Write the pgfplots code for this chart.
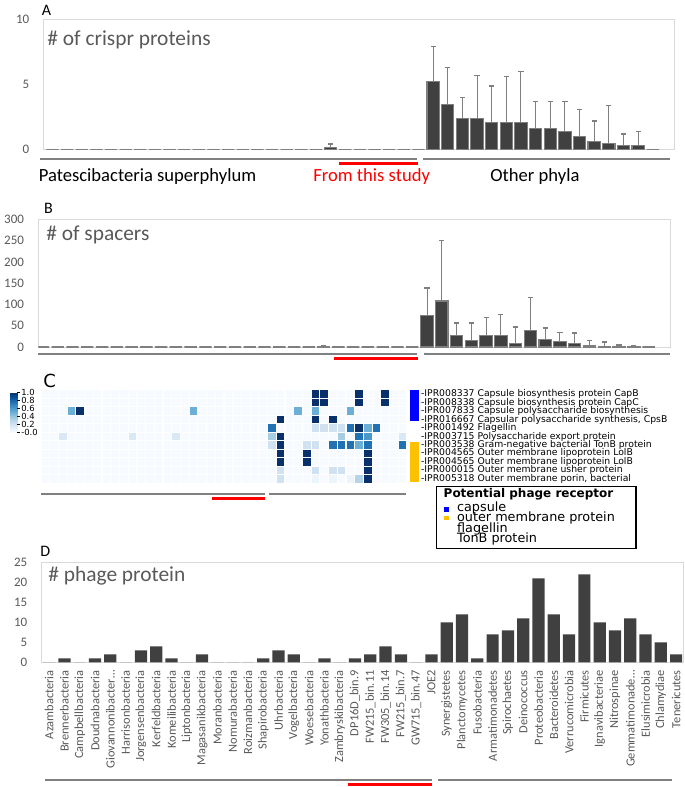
\documentclass[border=0pt]{standalone}
\usepackage{fontspec}
\setmainfont{Carlito}
\newfontfamily\dejavu{DejaVu Sans}
\usepackage{pgfplots}
\usepackage{pgfplotstable}
\pgfplotsset{compat=1.18}
\definecolor{labgray}{HTML}{595959}
\definecolor{boxgray}{HTML}{D9D9D9}
\definecolor{bardark}{HTML}{404040}
\definecolor{barline}{HTML}{7F7F7F}
\definecolor{linegray}{HTML}{808080}
\definecolor{xred}{HTML}{FF0000}
\definecolor{xgold}{HTML}{FFC000}
\definecolor{xblue}{HTML}{0000FF}

\pgfplotstableread{
x y e
0 0 0
1 0 0
2 0 0
3 0 0
4 0 0
5 0 0
6 0 0
7 0 0
8 0 0
9 0 0
10 0 0
11 0 0
12 0 0
13 0 0
14 0 0
15 0 0
16 0 0
17 0 0
18 0 0
19 0.15 0.3
20 0 0
21 0 0
22 0 0
23 0 0
24 0 0
25 0 0
26 5.2 2.7
27 3.5 2.8
28 2.4 1.6
29 2.4 3.3
30 2.1 2.8
31 2.1 3.5
32 2.1 3.9
33 1.6 2.1
34 1.6 2.1
35 1.4 2.3
36 1.0 2.1
37 0.6 1.6
38 0.5 2.9
39 0.3 0.9
40 0.3 1.1
41 0 0
}\dataA

\pgfplotstableread{
x y e
0 0 0
1 0 0
2 0 0
3 0 0
4 0 0
5 0 0
6 0 0
7 0 0
8 0 0
9 0 0
10 0 0
11 0 0
12 0 0
13 0 0
14 0 0
15 0 0
16 0 0
17 0 0
18 0 0
19 1 1
20 0 0
21 0 0
22 0 0
23 0 0
24 0 0
25 0 0
26 75 64
27 108 142
28 28 28
29 16 40
30 27 43
31 26 50
32 9 38
33 38 78
34 18 27
35 12 22
36 9 24
37 3 12
38 1.5 10
39 1 4
40 1 2
41 0 0
}\dataB

\pgfplotstableread{
c r0 r1 r2 r3 r4 r5 r6 r7 r8 r9 r10
0 0 0 0 0 0 0 0 0 0 0 0
1 0 0 0 0 0 0 0 0 0 0 0
2 0 0 0 0 0 0.15 0 0 0 0 0
3 0 0 0.5 0 0 0 0 0 0 0 0
4 0 0 1 0 0 0 0 0 0 0 0
5 0 0 0 0 0 0 0 0 0 0 0
6 0 0 0 0 0 0 0 0 0 0 0
7 0 0 0 0 0 0 0 0 0 0 0
8 0 0 0 0 0 0 0 0 0 0 0
9 0 0 0 0 0 0 0 0 0 0 0
10 0 0 0 0 0 0.15 0 0 0 0 0
11 0 0 0 0 0 0 0 0 0 0 0
12 0 0 0 0 0 0 0 0 0 0 0
13 0 0 0 0 0 0 0 0 0 0 0
14 0 0 0 0 0 0 0 0 0 0 0
15 0 0 0 0 0 0.15 0 0 0 0 0
16 0 0 0 0 0 0 0 0 0 0 0
17 0 0 0.5 0 0 0 0 0 0 0 0
18 0 0 0 0 0 0 0 0 0 0 0
19 0 0 0 0 0 0 0 0 0 0 0
20 0 0 0 0 0 0 0 0 0 0 0
21 0 0 0 0 0 0 0 0 0 0 0
22 0 0 0 0 0 0 0 0 0 0 0
23 0 0 0 0 0 0 0 0 0 0 0
24 0 0 0 0 0 0 0 0 0 0 0
25 0 0 0 0 0 0 0 0 0 0 0
26 0 0 0 0 0.75 0.35 0.2 0 0 0 0
27 0 0 0 1 0 1 1 1 1 0.2 0.2
28 0 0 0 0 0 0 0 0 0 0 0
29 0 0 0.5 0 0 0 0 0 0 0 0
30 0 0 0 0 0 0 0.2 1 1 0 0
31 1 1 0.5 1 0.2 0 0.2 0 0 0.2 0.05
32 1 1 0 0 0.2 0 0 0 0 0 0
33 0 0 0 1 0.2 0 0.75 0 0 0.2 0.05
34 0 0 0 0 0.2 0.35 0.75 0 0 0.2 0
35 0 0 0.5 0 0.75 0 0.75 0 0 0 0.05
36 1 1 0 0 1 0.75 0.5 0 0 0 0.3
37 0 0 0 0 0.5 0.6 0.75 1 1 1 1
38 0 0 0 0 0.75 0 0 0 0 0 0
39 1 1 0 0 0 0 0 0 0 0 0
40 0 0 0 0 0 0 0 0 0 0 0
41 0 0 0 0 0 0.15 0.75 0 0 0 0
}\heat

\pgfplotstableread{
x y
0 0
1 1
2 0
3 1
4 2
5 0
6 3
7 4
8 1
9 0
10 2
11 0
12 0
13 0
14 1
15 3
16 2
17 0
18 1
19 0
20 1
21 2
22 4
23 2
24 0
25 2
26 10
27 12
28 1
29 7
30 8
31 11
32 21
33 12
34 7
35 22
36 10
37 8
38 11
39 7
40 5
41 2
}\dataD

\pgfplotsset{
  /pgf/number format/assume math mode=true,
  barpanel/.style={
    scale only axis, anchor=north west,
    axis line style={draw=boxgray, line width=0.5pt},
    xtick=\empty, ytick style={draw=none}, xtick style={draw=none},
    yticklabel style={font=\fontsize{6.5}{7}\selectfont, text=labgray, anchor=east, inner sep=0pt},
    yticklabel shift=7pt,
  },
  errbar/.style={ybar, bar width=0.84, fill=bardark, draw=barline, line width=0.55pt,
    error bars/.cd, y dir=plus, y explicit,
    error bar style={draw=barline, line width=0.5pt},
    error mark options={rotate=90, draw=barline, mark size=1.3pt, line width=0.7pt}},
  hm/.style={scatter, only marks, mark=square*, mark size=2.15pt, point meta=explicit,
    scatter/use mapped color={draw=white, fill=mapped color},
    mark options={line width=0.5pt}},
}

\begin{document}
\begin{tikzpicture}
\useasboundingbox (0,0) rectangle (342.5pt,-393.5pt);

% ---------------- Panel A
\begin{axis}[barpanel, at={(21.85pt,-9.65pt)}, width=315.5pt, height=65.2pt,
  xmin=-0.6, xmax=42.5, ymin=0, ymax=10, ytick={0,5,10}]
\addplot[errbar] table[x=x, y=y, y error=e] {\dataA};
\end{axis}

% ---------------- Panel B
\begin{axis}[barpanel, at={(19.2pt,-109.65pt)}, width=315.95pt, height=63.85pt,
  xmin=-0.31, xmax=42.47, ymin=0, ymax=300, ytick={0,50,100,150,200,250,300}]
\addplot[errbar] table[x=x, y=y, y error=e] {\dataB};
\end{axis}

% ---------------- Panel C (heatmap)
\begin{axis}[at={(20.5pt,-195pt)}, anchor=north west, scale only axis,
  width=183pt, height=46.5pt,
  xmin=-0.5, xmax=41.5, ymin=-0.5, ymax=10.5, y dir=reverse,
  axis line style={draw=none}, xtick=\empty,
  ytick={0,1,2,3,4,5,6,7,8,9,10}, ytick style={draw=none}, yticklabel pos=right,
  yticklabel style={font=\dejavu\fontsize{4.64}{4.64}\selectfont, anchor=west, inner sep=0pt},
  yticklabel shift=6.85pt,
  yticklabels={-IPR008337 Capsule biosynthesis protein CapB,
    -IPR008338 Capsule biosynthesis protein CapC,
    -IPR007833 Capsule polysaccharide biosynthesis,
    {-IPR016667 Capsular polysaccharide synthesis, CpsB},
    -IPR001492 Flagellin,
    -IPR003715 Polysaccharide export protein,
    -IPR003538 Gram-negative bacterial TonB protein,
    -IPR004565 Outer membrane lipoprotein LolB,
    -IPR004565 Outer membrane lipoprotein LolB,
    -IPR000015 Outer membrane usher protein,
    {-IPR005318 Outer membrane porin, bacterial}},
  colormap={blues}{rgb255=(247,251,255) rgb255=(222,235,247) rgb255=(198,219,239)
    rgb255=(158,202,225) rgb255=(107,174,214) rgb255=(66,146,198)
    rgb255=(33,113,181) rgb255=(8,81,156) rgb255=(8,48,107)},
  point meta min=0, point meta max=1,
  clip=false,
  colorbar,
  colorbar style={at={(parent axis.north west)}, anchor=north west,
    xshift=-24pt, yshift=-1pt, scale only axis, width=3.65pt, height=20pt,
    axis line style={draw=none},
    ytick={0,0.2,0.4,0.6,0.8,1}, yticklabels={-0.0,0.2,0.4,0.6,0.8,1.0},
    ytick pos=right, yticklabel pos=right, tick align=outside,
    major tick length=1.2pt, ytick style={draw=black, line width=0.3pt},
    yticklabel style={font=\dejavu\fontsize{4.2}{4.2}\selectfont, inner sep=0pt, anchor=west},
    yticklabel shift=0.6pt},
]
\addplot[hm] table[x=c, y expr=0, meta=r0] {\heat};
\addplot[hm] table[x=c, y expr=1, meta=r1] {\heat};
\addplot[hm] table[x=c, y expr=2, meta=r2] {\heat};
\addplot[hm] table[x=c, y expr=3, meta=r3] {\heat};
\addplot[hm] table[x=c, y expr=4, meta=r4] {\heat};
\addplot[hm] table[x=c, y expr=5, meta=r5] {\heat};
\addplot[hm] table[x=c, y expr=6, meta=r6] {\heat};
\addplot[hm] table[x=c, y expr=7, meta=r7] {\heat};
\addplot[hm] table[x=c, y expr=8, meta=r8] {\heat};
\addplot[hm] table[x=c, y expr=9, meta=r9] {\heat};
\addplot[hm] table[x=c, y expr=10, meta=r10] {\heat};
\end{axis}

% ---------------- Panel D
\begin{axis}[barpanel, at={(20.85pt,-281.15pt)}, width=320.65pt, height=50pt,
  xmin=-0.49, xmax=41.45, ymin=0, ymax=25, ytick={0,5,10,15,20,25},
  xtick={0,1,2,3,4,5,6,7,8,9,10,11,12,13,14,15,16,17,18,19,20,21,22,23,24,25,26,27,28,29,30,31,32,33,34,35,36,37,38,39,40,41},
  xticklabel style={rotate=90, anchor=east, inner sep=0pt, font=\fontsize{6.2}{7}\selectfont, text=labgray},
  xticklabel shift=3.8pt,
  xticklabels={Azambacteria, Brennerbacteria, Campbellbacteria, Doudnabacteria,
    {Giovannonibacter\ldots}, Harrisonbacteria, Jorgensenbacteria, Kerfeldbacteria,
    Komeilibacteria, Liptonbacteria, Magasanikbacteria, Moranbacteria,
    Nomurabacteria, Roizmanbacteria, Shapirobacteria, Uhrbacteria, Vogelbacteria,
    Woesebacteria, Yonathbacteria, Zambryskibacteria, DP16D\_bin.9, FW215\_bin.11,
    FW305\_bin.14, FW215\_bin.7, GW715\_bin.47, JOE2, Synergistetes, Planctomycetes,
    Fusobacteria, Armatimonadetes, Spirochaetes, Deinococcus, Proteobacteria,
    Bacteroidetes, Verrucomicrobia, Firmicutes, Ignavibacteriae, Nitrospinae,
    {Gemmatimonade\ldots}, Elusimicrobia, Chlamydiae, Tenericutes}]
\addplot[ybar, bar width=0.8, fill=bardark, draw=none] table[x=x, y=y] {\dataD};
\end{axis}

% ---------------- annotations (pixel coordinates)
\begin{scope}[x=0.5pt, y=-0.5pt]
  % panel letters
  \node[anchor=base west, inner sep=0, font=\fontsize{8}{9}\selectfont] at (41.5,15) {A};
  \node[anchor=base west, inner sep=0, font=\fontsize{8}{9}\selectfont] at (43.7,213.3) {B};
  \node[anchor=base west, inner sep=0, font=\dejavu\fontsize{9}{10}\selectfont] at (43,387) {C};
  \node[anchor=base west, inner sep=0, font=\fontsize{8}{9}\selectfont] at (40,556) {D};
  % titles
  \node[anchor=base west, inner sep=0, text=labgray, font=\fontsize{10.7}{12}\selectfont] at (47,45) {\# of crispr proteins};
  \node[anchor=base west, inner sep=0, text=labgray, font=\fontsize{10.7}{12}\selectfont] at (45.9,240.5) {\# of spacers};
  \node[anchor=base west, inner sep=0, text=labgray, font=\fontsize{10.7}{12}\selectfont] at (48,581.5) {\# phage protein};
  % A group lines
  \draw[linegray, line width=1pt] (40,159.3) -- (417,159.3);
  \draw[linegray, line width=1pt] (422.7,159.3) -- (670,159.3);
  \draw[xred, line width=1.5pt] (339.3,163.6) -- (418,163.6);
  \node[anchor=base west, inner sep=0, font=\fontsize{9.3}{10}\selectfont] at (38.4,181.5) {Patescibacteria superphylum};
  \node[anchor=base west, inner sep=0, text=xred, font=\fontsize{9.3}{10}\selectfont] at (313,181.5) {From this study};
  \node[anchor=base west, inner sep=0, font=\fontsize{9.3}{10}\selectfont] at (490,181.5) {Other phyla};
  % B group lines
  \draw[linegray, line width=1pt] (38.4,354) -- (417,354);
  \draw[linegray, line width=1pt] (423.6,354) -- (670,354);
  \draw[xred, line width=1.5pt] (334,358.5) -- (418,358.5);
  % C side bars and group lines
  \fill[xblue] (410,390) rectangle (419,420.7);
  \fill[xgold] (410,442.3) rectangle (419,482.3);
  \draw[linegray, line width=1pt] (41,494) -- (265,494);
  \draw[linegray, line width=1pt] (269,494) -- (406,494);
  \draw[xred, line width=1.5pt] (212,498.3) -- (265,498.3);
  % C legend
  \draw[black, line width=0.6pt] (436.7,486.7) rectangle (636,548.3);
  \node[anchor=base west, inner sep=0, font=\dejavu\bfseries\fontsize{6}{7}\selectfont] at (443.3,497) {Potential phage receptor};
  \fill[xblue] (444.3,507.3) rectangle (449,511.7);
  \fill[xgold] (444.3,516) rectangle (449,520.4);
  \node[anchor=base west, inner sep=0, font=\dejavu\fontsize{6.4}{7}\selectfont] at (456.7,511.7) {capsule};
  \node[anchor=base west, inner sep=0, font=\dejavu\fontsize{6.4}{7}\selectfont] at (456.7,521.7) {outer membrane protein};
  \node[anchor=base west, inner sep=0, font=\dejavu\fontsize{6.4}{7}\selectfont] at (456.7,532.5) {flagellin};
  \node[anchor=base west, inner sep=0, font=\dejavu\fontsize{6.4}{7}\selectfont] at (456.7,542.7) {TonB protein};
  % D group lines
  \draw[linegray, line width=1pt] (45,780) -- (431.7,780);
  \draw[linegray, line width=1pt] (438.3,780) -- (671.7,780);
  \draw[xred, line width=1.5pt] (347.7,784) -- (431.7,784);
\end{scope}
\end{tikzpicture}
\end{document}
